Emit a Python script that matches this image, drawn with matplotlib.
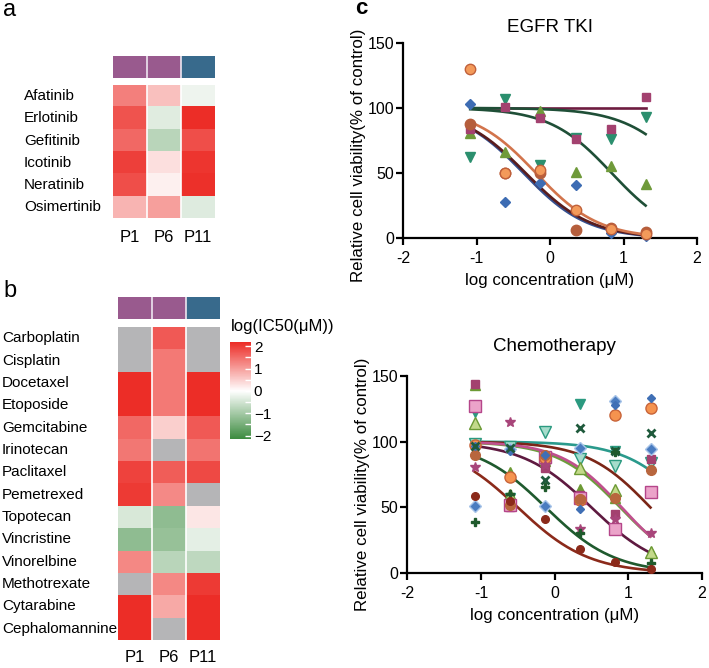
import numpy as np
import matplotlib
matplotlib.use('Agg')
import matplotlib.pyplot as plt
from matplotlib.colors import LinearSegmentedColormap, Normalize, ListedColormap
from matplotlib.cm import ScalarMappable
from matplotlib.transforms import blended_transform_factory

plt.rcParams['font.family'] = ['Liberation Sans', 'DejaVu Sans']

W, H = 709, 668

# ---- heatmap data ----
patients = ['P1', 'P6', 'P11']
patient_colors = ['#995a8e', '#995a8e', '#386a8c']

tki_drugs = ['Afatinib', 'Erlotinib', 'Gefitinib', 'Icotinib', 'Neratinib', 'Osimertinib']
tki_ic50 = np.array([
    [1.31, 0.65, -0.19],
    [1.76, -0.34, 2.15],
    [1.54, -0.77, 1.81],
    [1.97, 0.32, 2.08],
    [1.81, 0.15, 2.12],
    [0.76, 0.98, -0.36],
])

chemo_drugs = ['Carboplatin', 'Cisplatin', 'Docetaxel', 'Etoposide', 'Gemcitabine',
               'Irinotecan', 'Paclitaxel', 'Pemetrexed', 'Topotecan', 'Vincristine',
               'Vinorelbine', 'Methotrexate', 'Cytarabine', 'Cephalomannine']
nan = np.nan
chemo_ic50 = np.array([
    [nan, 1.70, nan],
    [nan, 1.37, nan],
    [2.15, 1.37, 2.15],
    [2.15, 1.37, 2.15],
    [1.54, 0.49, 1.70],
    [1.39, nan, 1.43],
    [1.93, 1.66, 1.87],
    [2.03, 1.21, nan],
    [-0.43, -1.23, 0.26],
    [-1.22, -1.14, -0.29],
    [1.23, -0.76, -0.72],
    [nan, 1.23, 2.03],
    [2.15, 0.88, 2.15],
    [2.15, nan, 2.15],
])

# ---- dose response data ----
log_conc = [-1.085, -0.607, -0.130, 0.347, 0.824, 1.301]

# EGFR TKI: (values, marker, face, edge, size)
tki_points = [
    ([62, 107, 56, 77, 76, 93], 'v', '#2b8f6e', '#2b8f6e', 6.5),
    ([81, 66, 98, 50.6, 55.4, 41.6], '^', '#6f9a3a', '#6f9a3a', 6.5),
    ([83.6, 101, 92, 76, 84, 108.6], 's', '#a3416f', '#a3416f', 6),
    ([102.7, 28, 42.6, 41, 4, 1.7], 'D', '#3d6cb3', '#3d6cb3', 5),
    ([88, 50, 50, 6.4, 8, 5], 'o', '#b55e3c', '#b55e3c', 7.5),
    ([130, 50, 52, 21.7, 7, 3], 'o', '#f39a5a', '#c0603a', 7.5),
]
# fitted 4PL curves: (top, bottom, logIC50, hill, colour)
tki_fits = [
    (100, 100, 0.0, 1.0, '#6e1c40'),
    (100, 0, 1.9, 1.0, '#1f4f37'),
    (100, 0, 0.84, 1.03, '#1f4f37'),
    (100, 0, -0.36, 1.0, '#35508f'),
    (100, 0, -0.33, 0.98, '#5a1c1c'),
    (100, 0, -0.19, 1.02, '#d2744c'),
]

chemo_points = [
    ([122.7, 57, 83, 128.6, 92.9, 84], 'v', '#2b9a80', '#2b9a80', 6.5),
    ([98, 96, 107.5, 86.5, 81.5, 84], 'v', '#a6dccb', '#2b9a80', 8),
    ([143, 77, 85, 63.8, 57, 16], '^', '#6c9a34', '#6c9a34', 6.5),
    ([114.4, 59.5, 88, 79.7, 63.3, 16.4], '^', '#c3d98a', '#6c9a34', 8),
    ([144, 50.6, 79.7, 59.5, 44.8, 86.5], 's', '#a3416f', '#a3416f', 6),
    ([127, 51.9, 88, 57, 33.4, 62], 's', '#eba3c9', '#b5468a', 8),
    ([97.4, 73, 87.6, 56, 120.2, 125.3], 'o', '#f5934f', '#c8643a', 8),
    ([89.8, 52, 89.8, 56.2, 57.4, 78.4], 'o', '#b8663e', '#b8663e', 7),
    ([51, 94.4, 51, 95.4, 131, 94.1], 'D', '#4a7cc0', '#a8c4e8', 6.5),
    ([97, 93, 90, 48.6, 128, 132.9], 'D', '#3f6fb5', '#3f6fb5', 4.5),
    ([81, 115, 82, 33.4, 41, 30.4], '*', '#a8457a', '#a8457a', 7),
    ([97, 95, 70.8, 110, 92.9, 106.3], 'x', '#1f5a3c', '#1f5a3c', 6),
    ([39.2, 60, 65.3, 30.8, 92, 8], 'P', '#1f5a2c', '#1f5a2c', 6),
    ([58.7, 55, 41, 18.5, 8.3, 3.3], 'o', '#8b2a1a', '#8b2a1a', 5.5),
]
chemo_fits = [
    (100, 0, 1.85, 1.0, '#2a9a8c'),
    (100, 0, 1.3, 1.0, '#7b2617'),
    (100, 0, 0.89, 1.0, '#6c9e3c'),
    (100, 0, 0.91, 1.05, '#c0508e'),
    (100, 0, 0.50, 0.92, '#5e1a40'),
    (100, 0, -0.12, 0.93, '#1f5a2e'),
    (100, 0, -0.5, 0.9, '#8b2a1a'),
]

fig = plt.figure(figsize=(W / 100, H / 100), dpi=100)


def box(x0, y0, x1, y1):
    return [x0 / W, 1 - y1 / H, (x1 - x0) / W, (y1 - y0) / H]


cmap = LinearSegmentedColormap.from_list(
    'gwr', [(0, '#3c8b3f'), (0.494, '#ffffff'), (1, '#ec2a24')])
cmap.set_bad('#b5b5b7')
norm = Normalize(vmin=-2.15, vmax=2.2)


def heatmap(values, drugs, bar_box, map_box, label_x, col_y):
    ax_bar = fig.add_axes(box(*bar_box))
    ax_bar.imshow([[0, 1, 2]], cmap=ListedColormap(patient_colors), aspect='auto',
                  interpolation='nearest')
    for x in [0.5, 1.5]:
        ax_bar.axvline(x, color='#eee6f0', lw=1.2)
    ax_bar.set_axis_off()

    ax = fig.add_axes(box(*map_box))
    ax.imshow(np.ma.masked_invalid(values), cmap=cmap, norm=norm, aspect='auto',
              interpolation='nearest')
    for x in [0.5, 1.5]:
        ax.axvline(x, color='white', lw=1.2)
    ax.set_axis_off()
    tr = blended_transform_factory(fig.transFigure, ax.transData)
    for i, d in enumerate(drugs):
        ax.text(label_x / W, i, d, transform=tr, ha='left', va='center', fontsize=11)
    tr2 = blended_transform_factory(ax.transData, fig.transFigure)
    for j, p in enumerate(patients):
        ax.text(j, 1 - col_y / H, p, transform=tr2, ha='center', va='center', fontsize=12)
    return ax


heatmap(tki_ic50, tki_drugs, (113.3, 56, 215, 77.7), (113.3, 85, 215, 218.3), 24, 237)
heatmap(chemo_ic50, chemo_drugs, (118.3, 297.3, 220, 319.3), (118.3, 327.3, 220, 640), 2, 658)

# colour bar
cax = fig.add_axes(box(230, 341.7, 251, 439))
cb = fig.colorbar(ScalarMappable(norm=norm, cmap=cmap), cax=cax, ticks=[-2, -1, 0, 1, 2])
cb.outline.set_visible(False)
cax.set_yticks([-1.5, -0.5, 0.5, 1.5], minor=True)
cax.tick_params(which='both', direction='in', color='white', length=4, width=1,
                labelsize=11, pad=2)
fig.text(231 / W, 1 - 326.7 / H, 'log(IC50(\u03bcM))', ha='left', va='center', fontsize=12)

# panel letters
fig.text(3 / W, 1 - 16 / H, 'a', fontsize=17)
fig.text(3 / W, 1 - 297 / H, 'b', fontsize=17)
fig.text(355 / W, 1 - 14 / H, 'c', fontsize=16, fontweight='bold')


def curve_plot(ax_box, points, fits, title, title_y, ylab_center):
    ax = fig.add_axes(box(*ax_box))
    xs = np.linspace(log_conc[0], log_conc[-1], 200)
    for top, bottom, c, h, color in fits:
        ax.plot(xs, bottom + (top - bottom) / (1 + 10 ** ((xs - c) * h)), color=color,
                lw=1.9, zorder=2)
    for vals, m, fc, ec, ms in points:
        kw = dict(mew=2) if m == 'x' else dict(mew=1)
        ax.plot(log_conc, vals, ls='none', marker=m, ms=ms, mfc=fc, mec=ec if m != 'x' else fc,
                clip_on=False, zorder=3, **kw)
    ax.set_xlim(-2, 2)
    ax.set_ylim(0, 150)
    ax.set_xticks([-2, -1, 0, 1, 2])
    ax.set_xticklabels(['-2', '-1', '0', '1', '2'])
    ax.set_yticks([0, 50, 100, 150])
    for s in ['top', 'right']:
        ax.spines[s].set_visible(False)
    for s in ['left', 'bottom']:
        ax.spines[s].set_linewidth(1.6)
    ax.tick_params(direction='out', length=5, width=1.6, labelsize=11.5)
    ax.tick_params(axis='x', pad=4)
    ax.tick_params(axis='y', pad=1.5)
    ax.set_xlabel('log concentration (\u03bcM)', fontsize=12.2, labelpad=5)
    ax.set_ylabel('Relative cell viability(% of control)', fontsize=12.2)
    # y label sits a bit below the axes centre in the reference
    x0, y0, x1, y1 = ax_box
    ax.yaxis.set_label_coords((ylab_center[0] + 8 - x0) / (x1 - x0),
                              (y1 - ylab_center[1]) / (y1 - y0))
    cx = (x0 + x1) / 2
    fig.text(cx / W, 1 - title_y / H, title, ha='center', va='baseline', fontsize=13.5)
    return ax


curve_plot((403, 42.7, 697, 238.3), tki_points, tki_fits, 'EGFR TKI', 32, (358, 155))
curve_plot((407.3, 375.7, 702, 573.3), chemo_points, chemo_fits, 'Chemotherapy', 351,
           (361.7, 484))

fig.savefig('out.png', dpi=100, facecolor='white')
